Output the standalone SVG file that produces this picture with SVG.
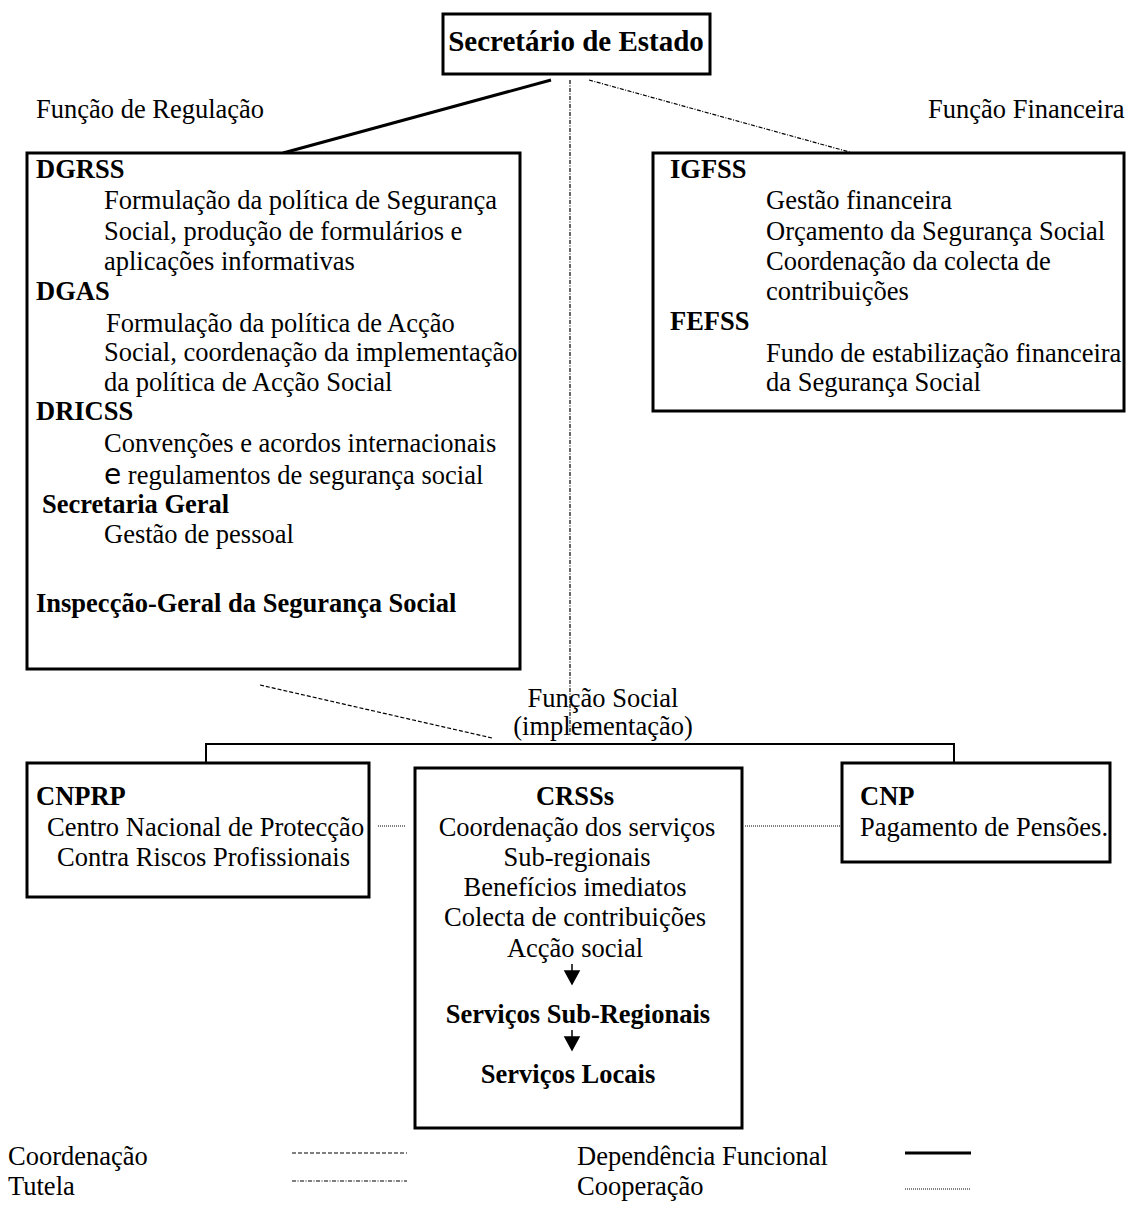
<svg xmlns="http://www.w3.org/2000/svg" width="1126" height="1209" viewBox="0 0 1126 1209">
<style>
text{font-family:"Liberation Serif","Times New Roman",serif;font-size:26.5px;fill:#000}
.b{font-weight:bold}
.c{text-anchor:middle}
.box{fill:#fff;stroke:#000;stroke-width:3}
.solid{stroke:#000;stroke-width:3;fill:none}
.thin{stroke:#000;stroke-width:2;fill:none}
.coord{stroke:#000;stroke-width:1.2;stroke-dasharray:4 2;fill:none}
.tut{stroke:#000;stroke-width:1.2;stroke-dasharray:4 1.5 1 1.5;fill:none}
.coop{stroke:#000;stroke-width:1;stroke-dasharray:1 1;fill:none}
</style>
<rect width="1126" height="1209" fill="#fff"/>
<g id="connectors">
<line class="solid" x1="551" y1="80" x2="283" y2="153"/>
<line class="tut" x1="570" y1="80" x2="570" y2="735"/>
<line class="tut" x1="589" y1="80" x2="853" y2="153"/>
<line class="coord" x1="260" y1="685" x2="492" y2="738"/>
<polyline class="thin" points="206,764 206,744 954,744 954,763"/>
<line class="coop" x1="378" y1="826" x2="405" y2="826"/>
<line class="coop" x1="745" y1="826" x2="841" y2="826"/>
</g>
<g id="secretario">
<rect class="box" x="443" y="14" width="267" height="60"/>
<text class="b c" x="576" y="51" style="font-size:29px">Secretário de Estado</text>
</g>
<g id="label-regulacao"><text x="36" y="118">Função de Regulação</text></g>
<g id="label-financeira"><text x="928" y="118">Função Financeira</text></g>
<g id="regulacao">
<rect class="box" x="27" y="153" width="493" height="516"/>
<text class="b" x="36" y="178">DGRSS</text>
<text x="104" y="209">Formulação da política de Segurança</text>
<text x="104" y="240">Social, produção de formulários e</text>
<text x="104" y="270">aplicações informativas</text>
<text class="b" x="36" y="300">DGAS</text>
<text x="106" y="332">Formulação da política de Acção</text>
<text x="104" y="361">Social, coordenação da implementação</text>
<text x="104" y="391">da política de Acção Social</text>
<text class="b" x="36" y="420">DRICSS</text>
<text x="104" y="452">Convenções e acordos internacionais</text>
<text x="104" y="484"><tspan style="font-family:'DejaVu Sans',sans-serif;font-size:28px">e</tspan> regulamentos de segurança social</text>
<text class="b" x="42" y="513">Secretaria Geral</text>
<text x="104" y="543">Gestão de pessoal</text>
<text class="b" x="36" y="612">Inspecção-Geral da Segurança Social</text>
</g>
<g id="financeira">
<rect class="box" x="653" y="153" width="471" height="258"/>
<text class="b" x="670" y="178">IGFSS</text>
<text x="766" y="209">Gestão financeira</text>
<text x="766" y="240">Orçamento da Segurança Social</text>
<text x="766" y="270">Coordenação da colecta de</text>
<text x="766" y="300">contribuições</text>
<text class="b" x="670" y="330">FEFSS</text>
<text x="766" y="362">Fundo de estabilização financeira</text>
<text x="766" y="391">da Segurança Social</text>
</g>
<g id="label-social">
<text class="c" x="603" y="707">Função Social</text>
<text class="c" x="603" y="735">(implementação)</text>
</g>
<g id="cnprp">
<rect class="box" x="27" y="763" width="342" height="134"/>
<text class="b" x="36" y="805">CNPRP</text>
<text x="47" y="836">Centro Nacional de Protecção</text>
<text x="57" y="866">Contra Riscos Profissionais</text>
</g>
<g id="crsss">
<rect class="box" x="415" y="768" width="327" height="360"/>
<text class="b c" x="575" y="805">CRSSs</text>
<text class="c" x="577" y="836">Coordenação dos serviços</text>
<text class="c" x="577" y="866">Sub-regionais</text>
<text class="c" x="575" y="896">Benefícios imediatos</text>
<text class="c" x="575" y="926">Colecta de contribuições</text>
<text class="c" x="575" y="957">Acção social</text>
<path d="M572 964 V972 M565 971 L579 971 L572 984 Z" stroke="#000" stroke-width="1.5" fill="#000"/>
<text class="b c" x="578" y="1023">Serviços Sub-Regionais</text>
<path d="M572 1030 V1038 M565 1037 L579 1037 L572 1050 Z" stroke="#000" stroke-width="1.5" fill="#000"/>
<text class="b c" x="568" y="1083">Serviços Locais</text>
</g>
<g id="cnp">
<rect class="box" x="842" y="763" width="268" height="99"/>
<text class="b" x="860" y="805">CNP</text>
<text x="860" y="836">Pagamento de Pensões.</text>
</g>
<g id="legend">
<text x="8" y="1165">Coordenação</text>
<text x="8" y="1195">Tutela</text>
<line class="coord" x1="292" y1="1153" x2="407" y2="1153"/>
<line class="tut" x1="292" y1="1181" x2="407" y2="1181"/>
<text x="577" y="1165">Dependência Funcional</text>
<text x="577" y="1195">Cooperação</text>
<line class="solid" x1="905" y1="1153" x2="971" y2="1153"/>
<line class="coop" x1="905" y1="1189" x2="971" y2="1189"/>
</g>
</svg>
